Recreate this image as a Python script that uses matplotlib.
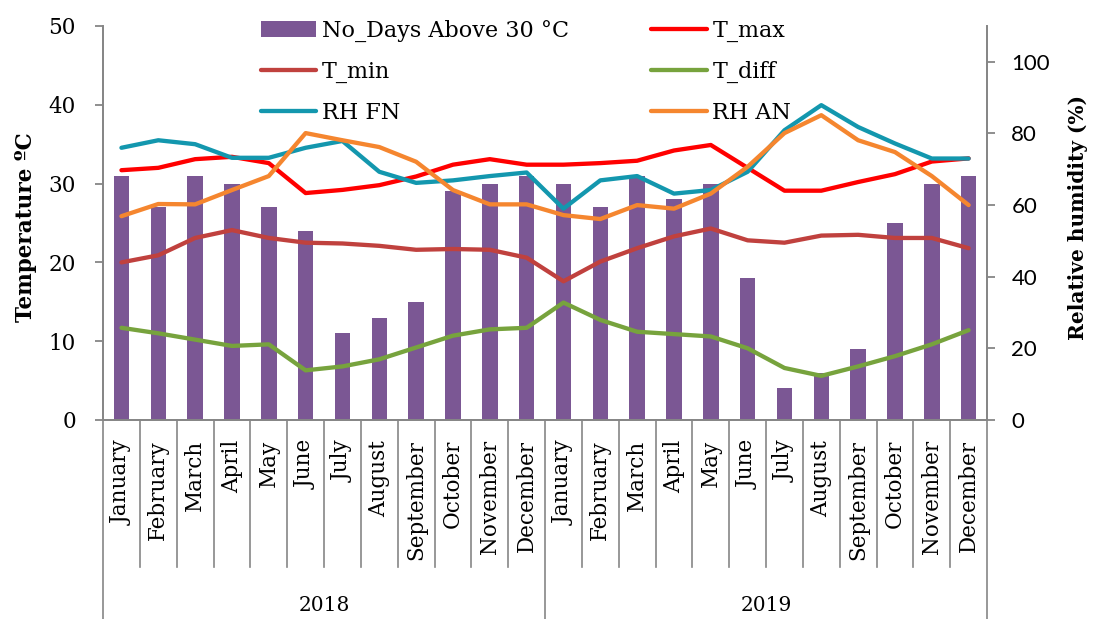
import matplotlib
matplotlib.use('Agg')
import matplotlib.pyplot as plt
import numpy as np

months = ['January', 'February', 'March', 'April', 'May', 'June', 'July',
          'August', 'September', 'October', 'November', 'December']
years = ['2018', '2019']
categories = months * 2

days_above_30 = [31, 27, 31, 30, 27, 24, 11, 13, 15, 29, 30, 31,
                 30, 27, 31, 28, 30, 18, 4, 6, 9, 25, 30, 31]
t_max = [31.7, 32.0, 33.1, 33.4, 32.6, 28.8, 29.2, 29.8, 30.9, 32.4, 33.1, 32.4,
         32.4, 32.6, 32.9, 34.2, 34.9, 32.0, 29.1, 29.1, 30.2, 31.2, 32.8, 33.2]
t_min = [20.0, 20.9, 23.1, 24.1, 23.1, 22.5, 22.4, 22.1, 21.6, 21.7, 21.6, 20.6,
         17.6, 20.1, 21.8, 23.3, 24.3, 22.8, 22.5, 23.4, 23.5, 23.1, 23.1, 21.8]
t_diff = [11.7, 11.0, 10.2, 9.4, 9.6, 6.3, 6.8, 7.7, 9.2, 10.7, 11.5, 11.7,
          14.9, 12.7, 11.2, 10.9, 10.6, 9.1, 6.6, 5.6, 6.8, 8.1, 9.6, 11.4]
rh_fn = [76.0, 78.1, 77.0, 73.2, 73.2, 76.0, 77.9, 69.3, 66.2, 66.9, 68.1, 69.1,
         59.0, 66.9, 68.1, 63.2, 64.2, 69.3, 80.9, 87.9, 81.8, 77.2, 73.0, 73.0]
rh_an = [56.9, 60.3, 60.2, 64.2, 68.1, 80.1, 78.1, 76.2, 72.1, 64.2, 60.2, 60.2,
         57.2, 56.1, 60.0, 59.0, 63.2, 70.7, 80.1, 85.1, 78.1, 74.8, 68.1, 60.0]

serif = 'DejaVu Serif'
gray = '#868686'

fig = plt.figure(figsize=(10.96, 6.19), dpi=100)
ax = fig.add_axes([0.094, 0.3215, 0.8066, 0.6365])
ax2 = ax.twinx()

x = np.arange(len(categories))

# столбцы и температура на левой оси
bars = ax.bar(x, days_above_30, 0.42, color='#7B5794', label='No_Days Above 30 °C', zorder=1)
lkw = dict(lw=3.1, solid_capstyle='round', solid_joinstyle='round')
l_max, = ax.plot(x, t_max, color='#FF0000', label='T_max', **lkw)
l_min, = ax.plot(x, t_min, color='#C0413E', label='T_min', **lkw)
l_diff, = ax.plot(x, t_diff, color='#77A33D', label='T_diff', **lkw)

# влажность на правой оси
l_fn, = ax2.plot(x, rh_fn, color='#1397AE', label='RH FN', **lkw)
l_an, = ax2.plot(x, rh_an, color='#F5862F', label='RH AN', **lkw)

ax.set_xlim(-0.5, len(categories) - 0.5)
ax.set_ylim(0, 50)
ax.set_yticks(range(0, 51, 10))
ax2.set_ylim(0, 110)
ax2.set_yticks(range(0, 101, 20))

for a in (ax, ax2):
    a.spines['top'].set_visible(False)
    for s in ('left', 'right', 'bottom'):
        a.spines[s].set_color(gray)
        a.spines[s].set_linewidth(1.3)
ax.tick_params(axis='x', length=0, labelbottom=False)
ax.tick_params(axis='y', direction='out', length=5.5, color=gray, width=1.3, pad=14)
ax2.tick_params(axis='y', direction='out', length=5.5, color=gray, width=1.3, pad=12)
for lab in ax.get_yticklabels():
    lab.set_fontfamily(serif)
    lab.set_fontsize(15.5)
for lab in ax2.get_yticklabels():
    lab.set_fontfamily('Lato')
    lab.set_fontsize(16)

ax.set_ylabel('Temperature ºC', fontfamily=serif, fontsize=15.5, fontweight='bold')
ax.yaxis.set_label_coords(-0.075, 0.49)
ax2.set_ylabel('Relative humidity (%)', fontfamily=serif, fontsize=14.5, fontweight='bold')
ax2.yaxis.set_label_coords(1.092, 0.515)

# двухуровневые подписи по оси X
trans = ax.get_xaxis_transform()
for b in range(len(categories) + 1):
    bottom = -0.505 if b % 12 == 0 else -0.373
    ax.plot([b - 0.5, b - 0.5], [0, bottom], transform=trans, clip_on=False,
            color=gray, lw=1.2)
for i, name in enumerate(categories):
    ax.text(i, -0.051, name, transform=trans, rotation=90, ha='center', va='top',
            fontfamily=serif, fontsize=15.5)
for j, yr in enumerate(years):
    ax.text(j * 12 + 5.5, -0.47, yr, transform=trans, ha='center', va='center',
            fontfamily=serif, fontsize=14.5)

handles = [bars, l_min, l_fn, l_max, l_diff, l_an]
leg = ax2.legend(handles, [h.get_label() for h in handles], ncol=2, frameon=False,
                 loc='upper left', bbox_to_anchor=(0.238, 0.968),
                 bbox_transform=fig.transFigure, borderpad=0, borderaxespad=0,
                 prop={'family': serif, 'size': 16}, handlelength=2.5,
                 handletextpad=0.25, columnspacing=3.7, labelspacing=0.85)

fig.savefig('out.png', dpi=100)
